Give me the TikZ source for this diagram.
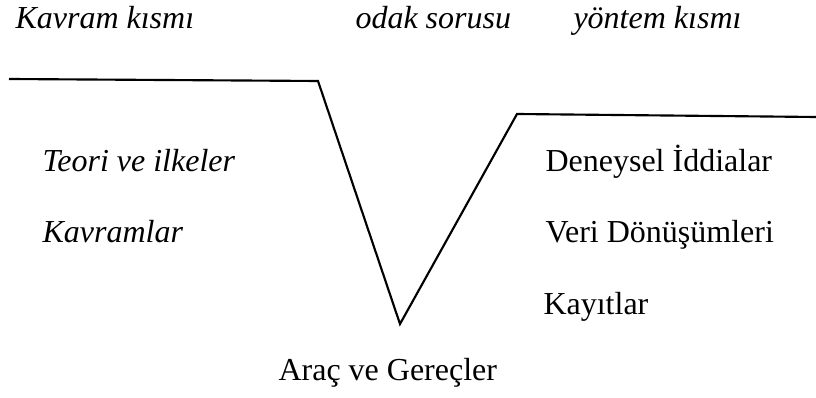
\documentclass[tikz,border=0pt]{standalone}
\usepackage{fontspec}
\setmainfont{Liberation Serif}[ItalicFont={Liberation Serif Italic},BoldFont={Liberation Serif Bold}]
\begin{document}
\begin{tikzpicture}[x=0.375pt,y=-0.375pt,font=\fontsize{12}{14}\selectfont,
	lbl/.style={anchor=base west,inner sep=0pt},
	ilbl/.style={lbl,font=\fontsize{12}{14}\selectfont\itshape}]
		\useasboundingbox (0,0) rectangle (816,398);
		\coordinate (sol) at (9,79);
		\coordinate (solk) at (318,81);
		\coordinate (dip) at (400,324);
		\coordinate (sagk) at (517,114);
		\coordinate (sag) at (816,117);
		\draw[line width=0.8pt,line join=miter] (sol)--(solk)--(dip)--(sagk)--(sag);
		\node[ilbl] (kavramk) at (15,29) {Kavram kısmı};
		\node[ilbl] (odak) at (355,29) {odak sorusu};
		\node[ilbl] (yontem) at (573,29) {yöntem kısmı};
		\node[ilbl] (teori) at (42,172) {Teori ve ilkeler};
		\node[ilbl] (kavramlar) at (42,243) {Kavramlar};
		\node[lbl] (iddia) at (545,172) {Deneysel İddialar};
		\node[lbl] (veri) at (545,243) {Veri Dönüşümleri};
		\node[lbl] (kayit) at (543,315) {Kayıtlar};
		\node[lbl] (arac) at (278,381) {Araç ve Gereçler};
\end{tikzpicture}
\end{document}
